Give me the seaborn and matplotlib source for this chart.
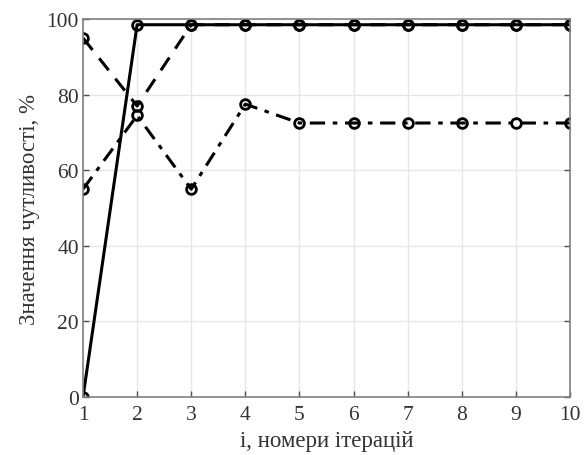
import numpy as np
import matplotlib.pyplot as plt
import seaborn as sns

# iteration numbers and sensitivity values (%)
iters = [1, 2, 3, 4, 5, 6, 7, 8, 9, 10]
solid_vals = [0, 98.5, 98.5, 98.5, 98.5, 98.5, 98.5, 98.5, 98.5, 98.5]
dashed_vals = [95, 77, 98.5, 98.5, 98.5, 98.5, 98.5, 98.5, 98.5, 98.5]
dashdot_vals = [55, 74.5, 55, 77.5, 72.5, 72.5, 72.5, 72.5, 72.5, 72.5]

sns.set_theme(style="whitegrid")
plt.rcParams['font.family'] = ['Liberation Serif', 'DejaVu Serif']

fig, ax = plt.subplots(figsize=(5.87, 4.56), dpi=100)
ax.set_facecolor("white")

mk = dict(marker='o', markersize=7, markerfacecolor='none',
          markeredgecolor='black', markeredgewidth=2, color='black', linewidth=2.2)

sns.lineplot(x=iters, y=dashed_vals, ax=ax, linestyle=(0, (5, 3.5)), **mk)
sns.lineplot(x=iters, y=dashdot_vals, ax=ax, linestyle=(0, (5, 2.5, 1.5, 2.5)), **mk)
sns.lineplot(x=iters, y=solid_vals, ax=ax, linestyle='-', **mk)

ax.set_xlim(1, 10)
ax.set_ylim(0, 100)
ax.set_xticks(iters)
ax.set_yticks([0, 20, 40, 60, 80, 100])
ax.grid(True, color='#e6e6e6', linewidth=1)

for s in ax.spines.values():
    s.set_visible(True)
    s.set_color('#808080')
    s.set_linewidth(1.2)

ax.tick_params(direction='in', length=4, width=1, colors='#505050',
               labelcolor='#333333', labelsize=15.5, top=False, right=True,
               bottom=True, left=True)
ax.tick_params(axis='x', pad=6)
ax.tick_params(axis='y', pad=3)

ax.set_xlabel("i, номери ітерацій", fontsize=16.5, color='#333333', labelpad=4)
ax.set_ylabel("Значення чутливості, %", fontsize=16.5, color='#333333', labelpad=5)

fig.subplots_adjust(left=0.1414, right=0.971, top=0.956, bottom=0.127)
fig.savefig("out.png", dpi=100)
